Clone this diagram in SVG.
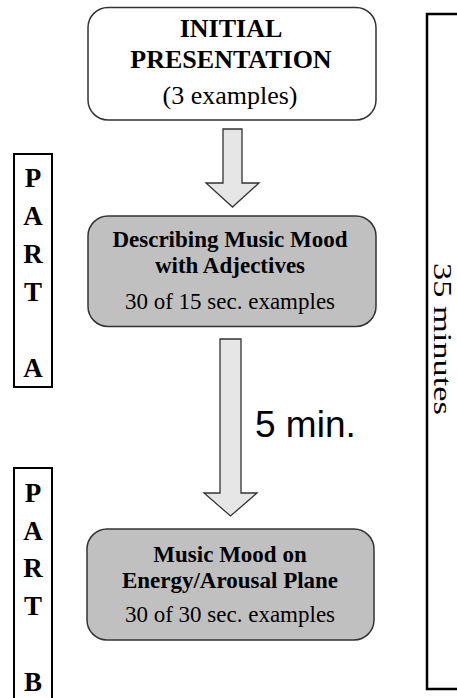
<svg xmlns="http://www.w3.org/2000/svg" width="457" height="698" viewBox="0 0 457 698">
  <style>
    .serif { font-family: "Liberation Serif", "Times New Roman", serif; fill: #000; }
    .bold { font-weight: bold; }
    .box { stroke: #333; stroke-width: 1.5; }
    .arrow { fill: #e6e6e6; stroke: #333; stroke-width: 1.3; stroke-linejoin: miter; }
    .part { fill: none; stroke: #000; stroke-width: 2; }
    .partletter { font-family: "Liberation Serif", "Times New Roman", serif; font-weight: bold; font-size: 27px; fill: #000; }
  </style>

  <rect width="457" height="698" fill="#fff"/>

  <!-- flow nodes -->
  <g id="initial-presentation">
    <rect class="box" x="88" y="7.5" width="288" height="112.5" rx="20" fill="#fff"/>
    <text class="serif bold" x="231" y="37" font-size="26" text-anchor="middle">INITIAL</text>
    <text class="serif bold" x="231" y="68" font-size="26" text-anchor="middle">PRESENTATION</text>
    <text class="serif" x="230" y="104" font-size="26" text-anchor="middle">(3 examples)</text>
  </g>

  <g id="adjectives">
    <rect class="box" x="88" y="216" width="288" height="110.5" rx="20" fill="#c0c0c0"/>
    <text class="serif bold" x="230" y="247" font-size="23" text-anchor="middle">Describing Music Mood</text>
    <text class="serif bold" x="230" y="273" font-size="23" text-anchor="middle">with Adjectives</text>
    <text class="serif" x="230" y="309" font-size="23" text-anchor="middle">30 of 15 sec. examples</text>
  </g>

  <g id="energy-arousal">
    <rect class="box" x="87" y="529" width="287" height="111" rx="20" fill="#c0c0c0"/>
    <text class="serif bold" x="230" y="561.5" font-size="23" text-anchor="middle">Music Mood on</text>
    <text class="serif bold" x="230" y="588" font-size="23" text-anchor="middle">Energy/Arousal Plane</text>
    <text class="serif" x="230" y="621.5" font-size="23" text-anchor="middle">30 of 30 sec. examples</text>
  </g>

  <!-- connectors: block arrows between stages -->
  <g id="connectors">
    <path class="arrow" d="M223,129 H242 V183 H259 L232.5,207 L206,183 H223 Z"/>
    <path class="arrow" d="M220,339 H241 V493 H257 L230.5,516 L204,493 H220 Z"/>
    <text x="255" y="436.5" font-family="Liberation Sans, Arial, sans-serif" font-size="37" fill="#000">5 min.</text>
  </g>

  <!-- part labels -->
  <g id="part-a">
    <rect class="part" x="14" y="154" width="38" height="233"/>
    <text class="partletter" x="33" y="187" text-anchor="middle">P</text>
    <text class="partletter" x="33" y="225" text-anchor="middle">A</text>
    <text class="partletter" x="33" y="263" text-anchor="middle">R</text>
    <text class="partletter" x="33" y="301" text-anchor="middle">T</text>
    <text class="partletter" x="33" y="377" text-anchor="middle">A</text>
  </g>

  <g id="part-b">
    <rect class="part" x="14" y="468" width="38" height="240"/>
    <text class="partletter" x="33" y="502" text-anchor="middle">P</text>
    <text class="partletter" x="33" y="540" text-anchor="middle">A</text>
    <text class="partletter" x="33" y="577" text-anchor="middle">R</text>
    <text class="partletter" x="33" y="615" text-anchor="middle">T</text>
    <text class="partletter" x="33" y="691" text-anchor="middle">B</text>
  </g>

  <!-- overall duration bracket -->
  <g id="duration">
    <path d="M460,14 H427 V689 H460" fill="none" stroke="#000" stroke-width="2.5"/>
    <text class="serif" transform="translate(434,263) rotate(90)" font-size="26" textLength="152" lengthAdjust="spacingAndGlyphs">35 minutes</text>
  </g>
</svg>
